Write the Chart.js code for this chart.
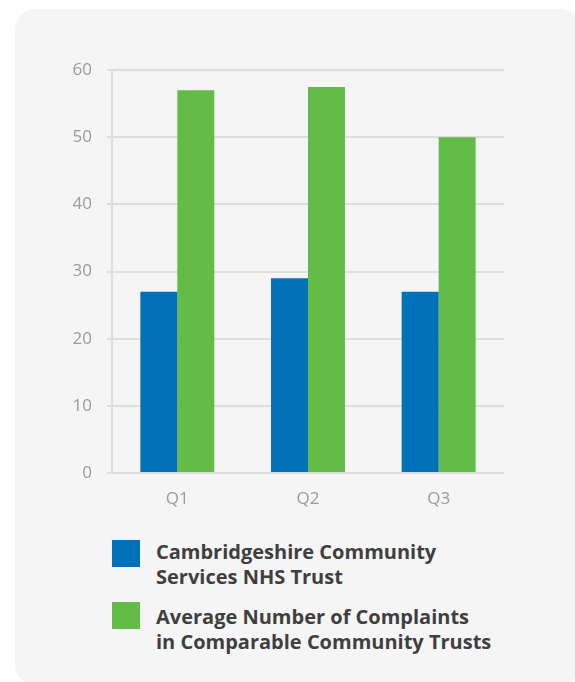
<!DOCTYPE html>
<html>
<head>
<meta charset="utf-8">
<script src="https://cdn.jsdelivr.net/npm/chart.js@4/dist/chart.umd.min.js"></script>
<style>
  html, body { margin: 0; padding: 0; background: #fff; overflow: hidden; }
  body { width: 575px; height: 682px; position: relative; font-family: "Open Sans", sans-serif; }
  .panel {
    position: absolute; left: 15px; top: 9px; width: 565px; height: 676px;
    background: #f5f5f5; border-radius: 20px;
  }
  #chart-box { position: absolute; left: 60px; top: 45px; width: 450px; height: 475px; }
  .legend-item { position: absolute; left: 112px; }
  .legend-item .swatch { position: absolute; left: 0; width: 28px; height: 27px; }
  .legend-item .text {
    position: absolute; left: 44px; white-space: nowrap;
    font-size: 20px; font-weight: bold; line-height: 25px; color: #3f3f3f;
  }
</style>
</head>
<body>
<div class="panel"></div>
<div id="chart-box"><canvas id="complaints"></canvas></div>
<div id="legend"></div>
<script>
// quarterly complaints
const quarters = ["Q1", "Q2", "Q3"];
const trustComplaints = [27, 29, 27];
const comparableAverage = [57, 57.5, 50];
const yTicks = [0, 10, 20, 30, 40, 50, 60];

const seriesLines = [
  ["Cambridgeshire Community", "Services NHS Trust"],
  ["Average Number of Complaints", "in Comparable Community Trusts"]
];
const seriesColors = ["#0070b9", "#63bb48"];

const tickFont = { family: "'Open Sans', sans-serif", size: 17 };

const data = {
  labels: quarters,
  datasets: [
    {
      label: seriesLines[0].join(" "),
      data: trustComplaints,
      backgroundColor: seriesColors[0],
      barPercentage: 1,
      categoryPercentage: 0.566,
    },
    {
      label: seriesLines[1].join(" "),
      data: comparableAverage,
      backgroundColor: seriesColors[1],
      barPercentage: 1,
      categoryPercentage: 0.566,
    },
  ],
};

const chart = new Chart(document.getElementById("complaints"), {
  type: "bar",
  data: data,
  options: {
    responsive: true,
    maintainAspectRatio: false,
    animation: false,
    layout: { padding: { top: 14, right: 6, bottom: 0, left: 0 } },
    plugins: { legend: { display: false }, tooltip: { enabled: false } },
    scales: {
      x: {
        grid: { display: false },
        border: { display: false },
        ticks: { color: "#9b9b9b", font: tickFont, padding: 8 },
        afterFit: (s) => { s.height = 47; },
      },
      y: {
        min: 0,
        max: 60,
        afterBuildTicks: (s) => { s.ticks = yTicks.map((v) => ({ value: v })); },
        grid: { color: "#dedede", lineWidth: 2, tickLength: 5 },
        border: { color: "#dedede", width: 2 },
        ticks: { color: "#9b9b9b", font: tickFont, padding: 15 },
        afterFit: (s) => { s.width = 52; },
      },
    },
  },
});

// legend built from the datasets, wrapped onto two lines each
const legendTops = [539, 604];
const swatchTops = [540, 602];
const legend = document.getElementById("legend");
chart.data.datasets.forEach((ds, i) => {
  const item = document.createElement("div");
  item.className = "legend-item";
  item.style.top = "0px";
  const sw = document.createElement("div");
  sw.className = "swatch";
  sw.style.top = swatchTops[i] + "px";
  sw.style.background = ds.backgroundColor;
  const txt = document.createElement("div");
  txt.className = "text";
  txt.style.top = legendTops[i] + "px";
  txt.innerHTML = seriesLines[i].join("<br>");
  item.appendChild(sw);
  item.appendChild(txt);
  legend.appendChild(item);
});
</script>
</body>
</html>
